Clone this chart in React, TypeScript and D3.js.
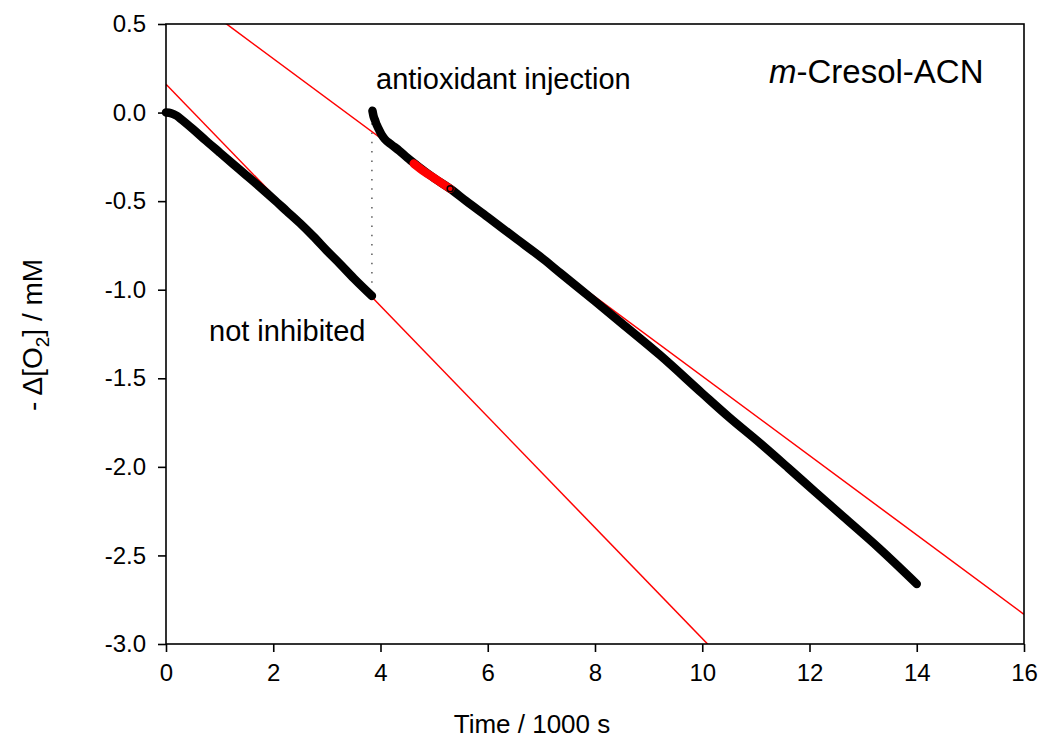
import React, { useEffect, useRef } from 'react';
import * as d3 from 'd3';

// Tick values
const xTicks = [0, 2, 4, 6, 8, 10, 12, 14, 16];
const yTicks = [0.5, 0, -0.5, -1.0, -1.5, -2.0, -2.5, -3.0];

// Uninhibited oxygen uptake (time in 1000 s, -Δ[O2] in mM)
const uninhibitedT = [0, 0.1, 0.2, 0.3, 0.5, 0.75, 1.0, 1.25, 1.5, 1.75, 2.0, 2.25, 2.5, 2.75, 3.0, 3.25, 3.5, 3.84];
const uninhibitedO2 = [0, -0.004, -0.018, -0.042, -0.093, -0.16, -0.225, -0.29, -0.355, -0.42, -0.487, -0.556, -0.625, -0.7, -0.78, -0.856, -0.935, -1.035];

// Inhibited oxygen uptake after antioxidant injection
const inhibitedT = [3.85, 3.87, 3.9, 3.93, 3.97, 4.02, 4.08, 4.2, 4.35, 4.5, 4.67, 5.0, 5.3, 5.6, 6.0, 6.5, 7.04, 7.35, 8.0, 8.5, 9.21, 10.0, 10.5, 11.08, 11.6, 12.1, 12.63, 13.3, 14.0];
const inhibitedO2 = [0.01, -0.02, -0.045, -0.07, -0.095, -0.125, -0.15, -0.18, -0.215, -0.255, -0.296, -0.37, -0.43, -0.5, -0.59, -0.705, -0.828, -0.905, -1.065, -1.19, -1.369, -1.585, -1.72, -1.867, -2.005, -2.14, -2.281, -2.46, -2.661];

// Points used for the inhibited-rate fit (highlighted red)
const highlightT = [4.62, 4.8, 5.0, 5.15, 5.3];
const highlightO2 = [-0.288, -0.33, -0.37, -0.4, -0.43];

// Linear fits: y = intercept + slope * t
const fitIntercepts = [0.16, 0.753];
const fitSlopes = [-0.3129, -0.2241];

// Injection marker
const injectionTime = 3.84;
const injectionRange = [-0.06, -0.965];

// Annotations
const labelNotInhibited = 'not inhibited';
const labelInjection = 'antioxidant injection';
const labelSystemItalic = 'm';
const labelSystemRest = '-Cresol-ACN';

const FONT = '"Liberation Sans", Arial, Helvetica, sans-serif';

export default function App() {
  const ref = useRef<SVGSVGElement | null>(null);

  useEffect(() => {
    const svg = d3.select(ref.current);
    svg.selectAll('*').remove();

    const left = 166, right = 1024, top = 24, bottom = 644;
    const x = d3.scaleLinear().domain([0, 16]).range([left, right]);
    const y = d3.scaleLinear().domain([-3.0, 0.5]).range([bottom, top]);

    svg.append('defs').append('clipPath').attr('id', 'plotclip')
      .append('rect').attr('x', left).attr('y', top).attr('width', right - left).attr('height', bottom - top);

    // injection dotted line
    svg.append('line')
      .attr('x1', x(injectionTime)).attr('x2', x(injectionTime))
      .attr('y1', y(injectionRange[0])).attr('y2', y(injectionRange[1]))
      .attr('stroke', '#333').attr('stroke-width', 1.2).attr('stroke-dasharray', '1.5,7.8');

    const line = d3.line<[number, number]>()
      .x(d => x(d[0])).y(d => y(d[1])).curve(d3.curveMonotoneX);

    const plot = svg.append('g').attr('clip-path', 'url(#plotclip)');

    const s1 = uninhibitedT.map((t, i) => [t, uninhibitedO2[i]] as [number, number]);
    const s2 = inhibitedT.map((t, i) => [t, inhibitedO2[i]] as [number, number]);
    const s3 = highlightT.map((t, i) => [t, highlightO2[i]] as [number, number]);

    [s1, s2].forEach(s => {
      svg.append('path').attr('d', line(s) as string)
        .attr('fill', 'none').attr('stroke', '#000').attr('stroke-width', 8.5)
        .attr('stroke-linecap', 'round').attr('stroke-linejoin', 'round');
    });
    svg.append('path').attr('d', line(s3) as string)
      .attr('fill', 'none').attr('stroke', '#ff0000').attr('stroke-width', 8.5)
      .attr('stroke-linecap', 'round').attr('stroke-linejoin', 'round');

    // fit lines
    fitIntercepts.forEach((b, i) => {
      const m = fitSlopes[i];
      plot.append('line')
        .attr('x1', x(0)).attr('y1', y(b))
        .attr('x2', x(16)).attr('y2', y(b + m * 16))
        .attr('stroke', '#ff0000').attr('stroke-width', 1.5);
    });

    // ring marker at end of highlighted points
    const last = s3[s3.length - 1];
    svg.append('circle').attr('cx', x(last[0])).attr('cy', y(last[1])).attr('r', 3)
      .attr('fill', '#ff0000').attr('stroke', '#000').attr('stroke-width', 1.5);

    // frame
    svg.append('rect').attr('x', left).attr('y', top).attr('width', right - left).attr('height', bottom - top)
      .attr('fill', 'none').attr('stroke', '#000').attr('stroke-width', 1.6);

    // axes
    const xAxis = d3.axisBottom(x).tickValues(xTicks).tickSize(8).tickSizeOuter(0).tickPadding(12)
      .tickFormat(d => String(d));
    const gx = svg.append('g').attr('transform', `translate(0,${bottom})`).call(xAxis);
    gx.select('.domain').remove();
    gx.selectAll('line').attr('stroke', '#000').attr('stroke-width', 1.6);
    gx.selectAll('text').attr('font-family', FONT).attr('font-size', 24).attr('fill', '#000');

    const yAxis = d3.axisLeft(y).tickValues(yTicks).tickSize(8).tickSizeOuter(0).tickPadding(12)
      .tickFormat(d => (d as number).toFixed(1));
    const gy = svg.append('g').attr('transform', `translate(${left},0)`).call(yAxis);
    gy.select('.domain').remove();
    gy.selectAll('line').attr('stroke', '#000').attr('stroke-width', 1.6);
    gy.selectAll('text').attr('font-family', FONT).attr('font-size', 24).attr('fill', '#000');

    // axis titles
    svg.append('text').attr('x', 532).attr('y', 733).attr('text-anchor', 'middle')
      .attr('font-family', FONT).attr('font-size', 26).text('Time / 1000 s');

    const yt = svg.append('text').attr('transform', 'translate(42,335) rotate(-90)')
      .attr('text-anchor', 'middle').attr('font-family', FONT).attr('font-size', 28);
    yt.append('tspan').text('- Δ[O');
    yt.append('tspan').attr('font-size', 19).attr('dy', 7).text('2');
    yt.append('tspan').attr('dy', -7).text('] / mM');

    // annotations
    svg.append('text').attr('x', 209).attr('y', 341).attr('font-family', FONT).attr('font-size', 29)
      .text(labelNotInhibited);
    svg.append('text').attr('x', 376).attr('y', 89).attr('font-family', FONT).attr('font-size', 29)
      .text(labelInjection);
    const sys = svg.append('text').attr('x', 769).attr('y', 83).attr('font-family', FONT).attr('font-size', 33);
    sys.append('tspan').attr('font-style', 'italic').text(labelSystemItalic);
    sys.append('tspan').text(labelSystemRest);
  }, []);

  return (
    <svg ref={ref} width={1041} height={745}
      style={{ position: 'absolute', left: 0, top: 0, background: '#fff' }} />
  );
}
